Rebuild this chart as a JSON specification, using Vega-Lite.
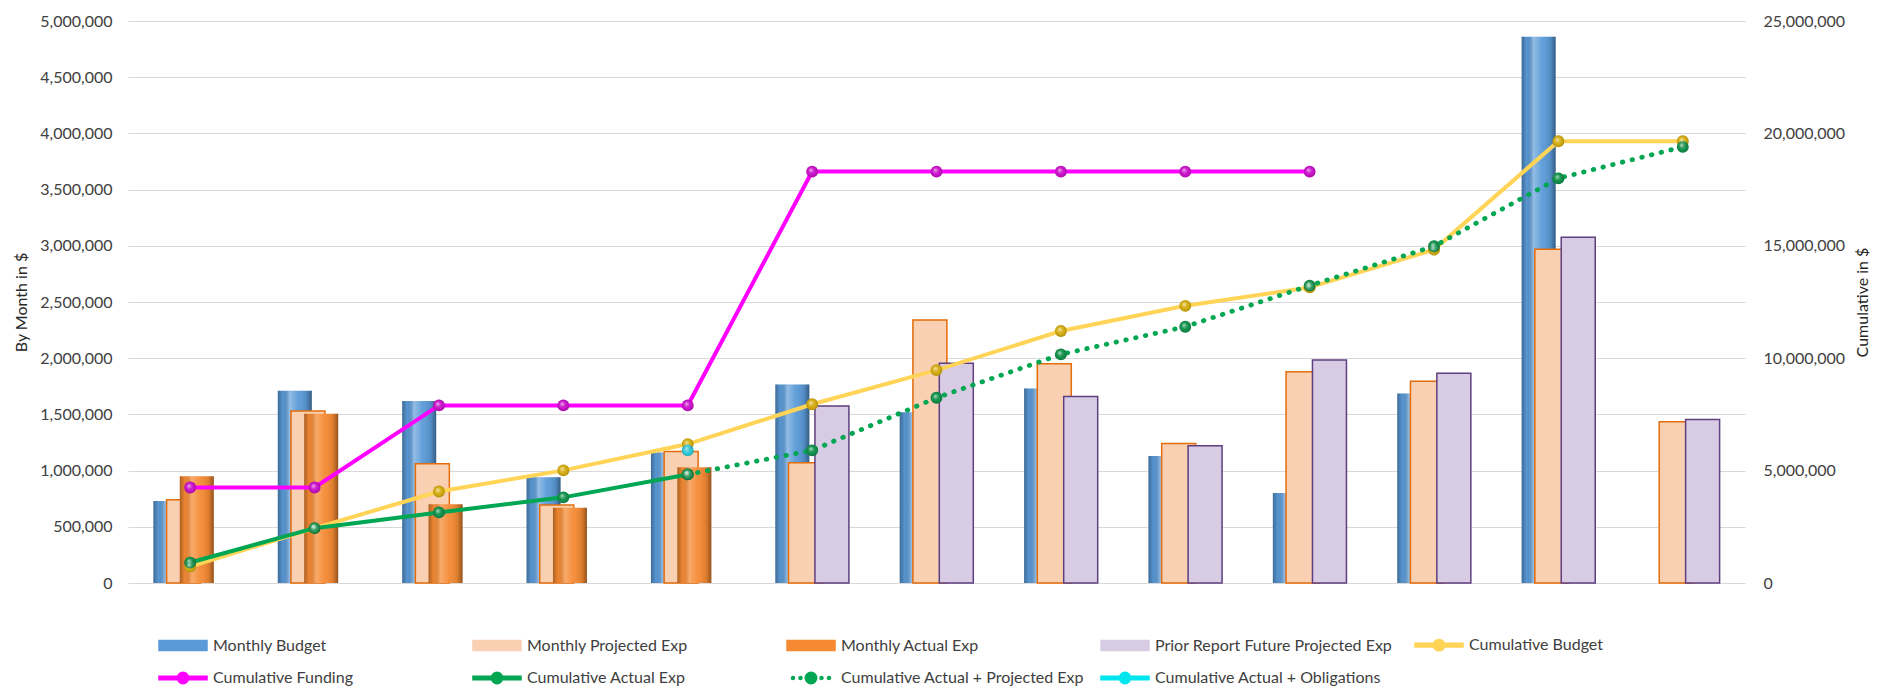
{
  "$schema": "https://vega.github.io/schema/vega-lite/v6.json",
  "width": 1617,
  "height": 562,
  "autosize": {"type": "none"},
  "padding": {"left": 128, "top": 21, "right": 132, "bottom": 105},
  "background": "white",
  "config": {
    "font": "Lato",
    "view": {"stroke": null},
    "axis": {"labelFont": "Lato", "labelFontSize": 16, "labelColor": "#404040", "titleFont": "Lato", "titleFontSize": 16, "titleFontWeight": "normal", "titleColor": "#262626", "domain": false, "ticks": false}
  },
  "datasets": {
    "monthly": [
      {"month": "Oct 18", "series": "Monthly Budget", "value": 730000},
      {"month": "Nov 18", "series": "Monthly Budget", "value": 1710000},
      {"month": "Dec 18", "series": "Monthly Budget", "value": 1620000},
      {"month": "Jan 19", "series": "Monthly Budget", "value": 940000},
      {"month": "Feb 19", "series": "Monthly Budget", "value": 1160000},
      {"month": "Mar 19", "series": "Monthly Budget", "value": 1765000},
      {"month": "Apr 19", "series": "Monthly Budget", "value": 1520000},
      {"month": "May 19", "series": "Monthly Budget", "value": 1730000},
      {"month": "Jun 19", "series": "Monthly Budget", "value": 1130000},
      {"month": "Jul 19", "series": "Monthly Budget", "value": 800000},
      {"month": "Aug 19", "series": "Monthly Budget", "value": 1685000},
      {"month": "Sep 19", "series": "Monthly Budget", "value": 4860000},
      {"month": "Oct 18", "series": "Monthly Projected Exp", "value": 740000},
      {"month": "Nov 18", "series": "Monthly Projected Exp", "value": 1530000},
      {"month": "Dec 18", "series": "Monthly Projected Exp", "value": 1060000},
      {"month": "Jan 19", "series": "Monthly Projected Exp", "value": 695000},
      {"month": "Feb 19", "series": "Monthly Projected Exp", "value": 1170000},
      {"month": "Mar 19", "series": "Monthly Projected Exp", "value": 1070000},
      {"month": "Apr 19", "series": "Monthly Projected Exp", "value": 2340000},
      {"month": "May 19", "series": "Monthly Projected Exp", "value": 1950000},
      {"month": "Jun 19", "series": "Monthly Projected Exp", "value": 1240000},
      {"month": "Jul 19", "series": "Monthly Projected Exp", "value": 1880000},
      {"month": "Aug 19", "series": "Monthly Projected Exp", "value": 1795000},
      {"month": "Sep 19", "series": "Monthly Projected Exp", "value": 2970000},
      {"month": "Post-PYI", "series": "Monthly Projected Exp", "value": 1435000},
      {"month": "Oct 18", "series": "Monthly Actual Exp", "value": 950000},
      {"month": "Nov 18", "series": "Monthly Actual Exp", "value": 1505000},
      {"month": "Dec 18", "series": "Monthly Actual Exp", "value": 700000},
      {"month": "Jan 19", "series": "Monthly Actual Exp", "value": 670000},
      {"month": "Feb 19", "series": "Monthly Actual Exp", "value": 1030000},
      {"month": "Mar 19", "series": "Prior Report Future Projected Exp", "value": 1575000},
      {"month": "Apr 19", "series": "Prior Report Future Projected Exp", "value": 1955000},
      {"month": "May 19", "series": "Prior Report Future Projected Exp", "value": 1660000},
      {"month": "Jun 19", "series": "Prior Report Future Projected Exp", "value": 1220000},
      {"month": "Jul 19", "series": "Prior Report Future Projected Exp", "value": 1985000},
      {"month": "Aug 19", "series": "Prior Report Future Projected Exp", "value": 1865000},
      {"month": "Sep 19", "series": "Prior Report Future Projected Exp", "value": 3075000},
      {"month": "Post-PYI", "series": "Prior Report Future Projected Exp", "value": 1455000}
    ],
    "cumulative": [
      {"month": "Oct 18", "series": "Cumulative Budget", "cum": 730000},
      {"month": "Nov 18", "series": "Cumulative Budget", "cum": 2440000},
      {"month": "Dec 18", "series": "Cumulative Budget", "cum": 4070000},
      {"month": "Jan 19", "series": "Cumulative Budget", "cum": 5010000},
      {"month": "Feb 19", "series": "Cumulative Budget", "cum": 6180000},
      {"month": "Mar 19", "series": "Cumulative Budget", "cum": 7950000},
      {"month": "Apr 19", "series": "Cumulative Budget", "cum": 9470000},
      {"month": "May 19", "series": "Cumulative Budget", "cum": 11210000},
      {"month": "Jun 19", "series": "Cumulative Budget", "cum": 12330000},
      {"month": "Jul 19", "series": "Cumulative Budget", "cum": 13150000},
      {"month": "Aug 19", "series": "Cumulative Budget", "cum": 14830000},
      {"month": "Sep 19", "series": "Cumulative Budget", "cum": 19650000},
      {"month": "Post-PYI", "series": "Cumulative Budget", "cum": 19650000},
      {"month": "Oct 18", "series": "Cumulative Funding", "cum": 4250000},
      {"month": "Nov 18", "series": "Cumulative Funding", "cum": 4250000},
      {"month": "Dec 18", "series": "Cumulative Funding", "cum": 7900000},
      {"month": "Jan 19", "series": "Cumulative Funding", "cum": 7900000},
      {"month": "Feb 19", "series": "Cumulative Funding", "cum": 7900000},
      {"month": "Mar 19", "series": "Cumulative Funding", "cum": 18300000},
      {"month": "Apr 19", "series": "Cumulative Funding", "cum": 18300000},
      {"month": "May 19", "series": "Cumulative Funding", "cum": 18300000},
      {"month": "Jun 19", "series": "Cumulative Funding", "cum": 18300000},
      {"month": "Jul 19", "series": "Cumulative Funding", "cum": 18300000},
      {"month": "Oct 18", "series": "Cumulative Actual Exp", "cum": 910000},
      {"month": "Nov 18", "series": "Cumulative Actual Exp", "cum": 2440000},
      {"month": "Dec 18", "series": "Cumulative Actual Exp", "cum": 3140000},
      {"month": "Jan 19", "series": "Cumulative Actual Exp", "cum": 3810000},
      {"month": "Feb 19", "series": "Cumulative Actual Exp", "cum": 4830000},
      {"month": "Feb 19", "series": "Cumulative Actual + Projected Exp", "cum": 4830000},
      {"month": "Mar 19", "series": "Cumulative Actual + Projected Exp", "cum": 5900000},
      {"month": "Apr 19", "series": "Cumulative Actual + Projected Exp", "cum": 8240000},
      {"month": "May 19", "series": "Cumulative Actual + Projected Exp", "cum": 10170000},
      {"month": "Jun 19", "series": "Cumulative Actual + Projected Exp", "cum": 11400000},
      {"month": "Jul 19", "series": "Cumulative Actual + Projected Exp", "cum": 13230000},
      {"month": "Aug 19", "series": "Cumulative Actual + Projected Exp", "cum": 14980000},
      {"month": "Sep 19", "series": "Cumulative Actual + Projected Exp", "cum": 18000000},
      {"month": "Post-PYI", "series": "Cumulative Actual + Projected Exp", "cum": 19400000},
      {"month": "Feb 19", "series": "Cumulative Actual + Obligations", "cum": 5900000}
    ]
  },
  "layer": [
    {
      "data": {"name": "monthly"},
      "encoding": {
        "x": {"field": "month", "type": "nominal", "sort": null, "scale": {"domain": ["Oct 18", "Nov 18", "Dec 18", "Jan 19", "Feb 19", "Mar 19", "Apr 19", "May 19", "Jun 19", "Jul 19", "Aug 19", "Sep 19", "Post-PYI"], "paddingInner": 0, "paddingOuter": 0}, "axis": {"title": null, "labelAngle": 0, "labelPadding": 14, "grid": false, "labelColor": "#595959"}},
        "xOffset": {"field": "series", "type": "nominal", "scale": {"domain": ["Monthly Budget", "Monthly Projected Exp", "Monthly Actual Exp", "Prior Report Future Projected Exp"], "paddingInner": 0, "paddingOuter": 0, "range": [35.8, 88.6]}},
        "y": {"field": "value", "type": "quantitative", "scale": {"domain": [0, 5000000], "nice": false}, "axis": {"title": "By Month in $", "orient": "left", "format": ",.0f", "tickCount": 10, "grid": true, "gridColor": "#D9D9D9", "gridWidth": 1.2, "labelPadding": 16, "titlePadding": 10}}
      },
      "layer": [
        {
          "transform": [{"filter": {"field": "series", "equal": "Monthly Budget"}}],
          "mark": {"type": "bar", "width": 34},
          "encoding": {
            "color": {
              "field": "series", "type": "nominal",
              "scale": {"domain": ["Monthly Budget", "Monthly Projected Exp", "Monthly Actual Exp", "Prior Report Future Projected Exp", "Cumulative Budget", "Cumulative Funding", "Cumulative Actual Exp", "Cumulative Actual + Projected Exp", "Cumulative Actual + Obligations"], "range": ["#5A9AD8", "#FAD0B2", "#F58A33", "#D8CCE4", "#FFD457", "#FF00FF", "#00A651", "#00A651", "#00E5EE"]},
              "legend": {
                "title": null, "orient": "none", "legendX": 39, "legendY": 608, "direction": "horizontal", "columns": 5, "gridAlign": "all", "columnPadding": 13, "rowPadding": 8, "symbolSize": 900, "labelOffset": 14, "labelFontSize": 16, "labelFont": "Lato", "labelColor": "#404040", "labelLimit": 400, "symbolOpacity": 1,
                "encode": {
                  "symbols": {
                    "update": {
                      "shape": {"signal": "datum.value === 'Cumulative Actual + Projected Exp' ? 'M-1.1,0A0.1,0.1 0 1 1 -1.3,0A0.1,0.1 0 1 1 -1.1,0Z M-0.6,0A0.1,0.1 0 1 1 -0.8,0A0.1,0.1 0 1 1 -0.6,0Z M0.8,0A0.1,0.1 0 1 1 0.6,0A0.1,0.1 0 1 1 0.8,0Z M1.3,0A0.1,0.1 0 1 1 1.1,0A0.1,0.1 0 1 1 1.3,0Z M0.38,0A0.38,0.38 0 1 1 -0.38,0A0.38,0.38 0 1 1 0.38,0Z' : (indexof(['Monthly Budget','Monthly Projected Exp','Monthly Actual Exp','Prior Report Future Projected Exp'], datum.value) >= 0 ? 'M-1.6,-0.33H1.6V0.33H-1.6Z' : 'M-1.6,-0.12H1.6V0.12H-1.6Z M0.38,0A0.38,0.38 0 1 1 -0.38,0A0.38,0.38 0 1 1 0.38,0Z')"},
                      "fill": {"signal": "scale('color', datum.value)"},
                      "stroke": {"signal": "datum.value === 'Monthly Projected Exp' ? '#E46C0A' : (datum.value === 'Prior Report Future Projected Exp' ? '#6A4A8C' : (datum.value === 'Monthly Budget' ? '#2F5F8F' : (datum.value === 'Monthly Actual Exp' ? '#B5520E' : 'transparent')))"},
                      "strokeWidth": {"value": 1.5},
                      "opacity": {"value": 1}
                    }
                  }
                }
              }
            }
          }
        },
        {
          "transform": [{"filter": {"field": "series", "equal": "Monthly Budget"}}],
          "mark": {"type": "bar", "width": 34, "fill": {"gradient": "linear", "x1": 0, "y1": 0, "x2": 1, "y2": 0, "stops": [{"offset": 0, "color": "rgba(0,0,0,0.3)"}, {"offset": 0.15, "color": "rgba(0,0,0,0.03)"}, {"offset": 0.35, "color": "rgba(255,255,255,0.35)"}, {"offset": 0.6, "color": "rgba(255,255,255,0.05)"}, {"offset": 0.85, "color": "rgba(0,0,0,0.1)"}, {"offset": 1, "color": "rgba(0,0,0,0.4)"}]}}
        },
        {
          "transform": [{"filter": {"field": "series", "equal": "Monthly Projected Exp"}}],
          "mark": {"type": "bar", "width": 34, "stroke": "#E46C0A", "strokeWidth": 1.5},
          "encoding": {"color": {"field": "series", "type": "nominal", "legend": null}}
        },
        {
          "transform": [{"filter": {"field": "series", "equal": "Monthly Actual Exp"}}],
          "mark": {"type": "bar", "width": 34},
          "encoding": {"color": {"field": "series", "type": "nominal", "legend": null}}
        },
        {
          "transform": [{"filter": {"field": "series", "equal": "Monthly Actual Exp"}}],
          "mark": {"type": "bar", "width": 34, "fill": {"gradient": "linear", "x1": 0, "y1": 0, "x2": 1, "y2": 0, "stops": [{"offset": 0, "color": "rgba(0,0,0,0.3)"}, {"offset": 0.15, "color": "rgba(0,0,0,0.03)"}, {"offset": 0.35, "color": "rgba(255,255,255,0.28)"}, {"offset": 0.6, "color": "rgba(255,255,255,0.05)"}, {"offset": 0.85, "color": "rgba(0,0,0,0.1)"}, {"offset": 1, "color": "rgba(0,0,0,0.4)"}]}}
        },
        {
          "transform": [{"filter": {"field": "series", "equal": "Prior Report Future Projected Exp"}}],
          "mark": {"type": "bar", "width": 34, "stroke": "#5E3F80", "strokeWidth": 1.5},
          "encoding": {"color": {"field": "series", "type": "nominal", "legend": null}}
        }
      ]
    },
    {
      "data": {"name": "cumulative"},
      "encoding": {
        "x": {"field": "month", "type": "nominal", "sort": null, "scale": {"domain": ["Oct 18", "Nov 18", "Dec 18", "Jan 19", "Feb 19", "Mar 19", "Apr 19", "May 19", "Jun 19", "Jul 19", "Aug 19", "Sep 19", "Post-PYI"], "paddingInner": 0, "paddingOuter": 0}, "axis": null},
        "y": {"field": "cum", "type": "quantitative", "scale": {"domain": [0, 25000000], "nice": false}, "axis": {"title": "Cumulative in $", "orient": "right", "format": ",.0f", "tickCount": 5, "grid": false, "labelPadding": 18, "titleAngle": 270, "titlePadding": 26}}
      },
      "layer": [
        {
          "transform": [{"filter": {"field": "series", "equal": "Cumulative Budget"}}],
          "mark": {"type": "line", "strokeWidth": 4},
          "encoding": {"color": {"field": "series", "type": "nominal", "legend": null}}
        },
        {
          "transform": [{"filter": {"field": "series", "equal": "Cumulative Funding"}}],
          "mark": {"type": "line", "strokeWidth": 4},
          "encoding": {"color": {"field": "series", "type": "nominal", "legend": null}}
        },
        {
          "transform": [{"filter": {"field": "series", "equal": "Cumulative Actual Exp"}}],
          "mark": {"type": "line", "strokeWidth": 4},
          "encoding": {"color": {"field": "series", "type": "nominal", "legend": null}}
        },
        {
          "transform": [{"filter": {"field": "series", "equal": "Cumulative Actual + Projected Exp"}}],
          "mark": {"type": "line", "strokeWidth": 4.8, "strokeDash": [0.5, 9.5], "strokeCap": "round"},
          "encoding": {"color": {"field": "series", "type": "nominal", "legend": null}}
        },
        {
          "mark": {"type": "point", "filled": true, "size": 140, "opacity": 1, "strokeWidth": 0},
          "encoding": {"fill": {"field": "series", "type": "nominal", "legend": null, "scale": {"domain": ["Cumulative Budget", "Cumulative Funding", "Cumulative Actual Exp", "Cumulative Actual + Projected Exp", "Cumulative Actual + Obligations"], "range": ["#D4A800", "#C800C8", "#008A3E", "#008A3E", "#20C8D8"]}}}
        },
        {
          "mark": {"type": "point", "filled": true, "size": 140, "opacity": 1, "strokeWidth": 0, "fill": {"gradient": "radial", "x1": 0.38, "y1": 0.35, "r1": 0, "x2": 0.5, "y2": 0.5, "r2": 0.55, "stops": [{"offset": 0, "color": "rgba(255,255,255,0.7)"}, {"offset": 0.45, "color": "rgba(255,255,255,0.1)"}, {"offset": 1, "color": "rgba(0,0,0,0.2)"}]}}
        }
      ]
    }
  ],
  "resolve": {"scale": {"y": "independent"}}
}
